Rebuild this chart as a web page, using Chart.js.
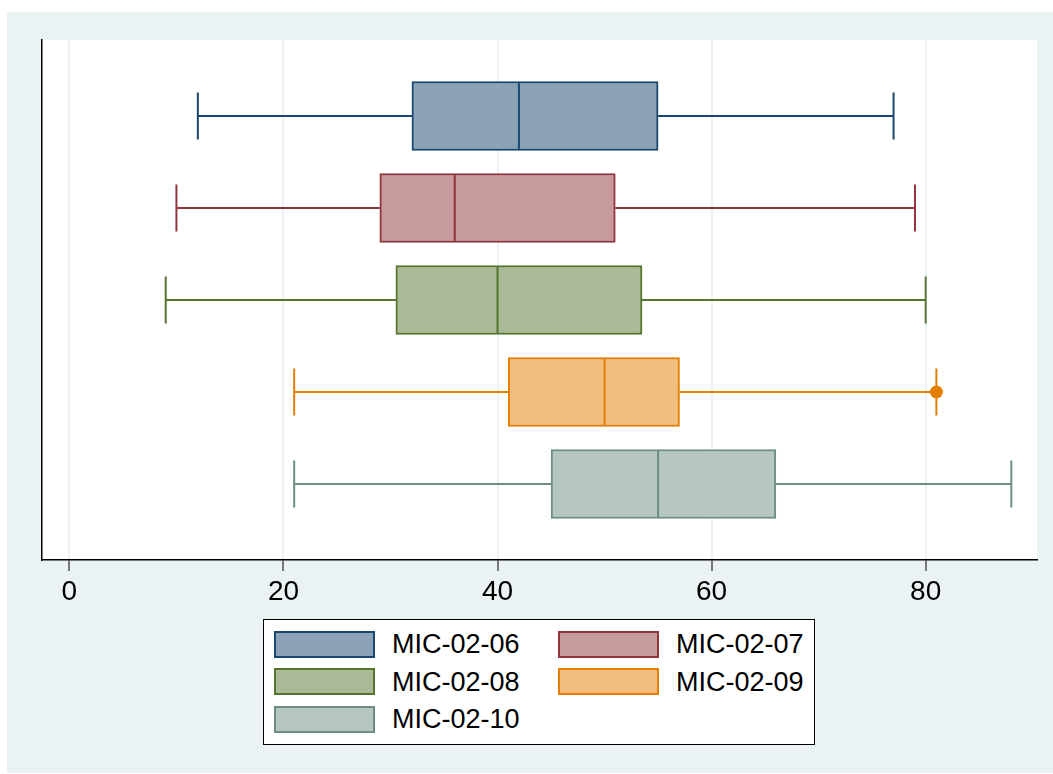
<!DOCTYPE html>
<html lang="en">
<head>
<meta charset="UTF-8">
<title>MIC box plots</title>
<script src="https://cdn.jsdelivr.net/npm/chart.js@4.4.2/dist/chart.umd.min.js"></script>
<style>
  body { margin: 0; background: #fff; font-family: 'Liberation Sans', Arial, sans-serif; }
  #frame { position: absolute; left: 7px; top: 12px; width: 1046px; height: 761px; background: #eaf2f3; }
  #chartBox { position: absolute; left: 0; top: 0; width: 1046px; height: 761px; }
  #legend {
    position: absolute; left: 256px; top: 607px; width: 552px; height: 126px;
    background: #fff; border: 1px solid #000; box-sizing: border-box;
  }
  .item { position: absolute; height: 28px; display: flex; align-items: center; }
  .swatch { width: 97px; height: 23px; border: 2.5px solid; margin-right: 17px; }
  .item span { font-size: 27px; color: #000; line-height: 28px; }
</style>
</head>
<body>
<div id="frame">
  <div id="chartBox"><canvas id="boxChart"></canvas></div>
  <div id="legend"></div>
</div>
<script>
// --- data ---
const categories = ['MIC-02-06', 'MIC-02-07', 'MIC-02-08', 'MIC-02-09', 'MIC-02-10'];
const whiskerLow = [12, 10, 9, 21, 21];
const quartile1 = [32, 29, 30.5, 41, 45];
const medians = [42, 36, 40, 50, 55];
const quartile3 = [55, 51, 53.5, 57, 66];
const whiskerHigh = [77, 79, 80, 81, 88];
const outliers = [[], [], [], [81], []];
const tickLabels = [0, 20, 40, 60, 80];

const lineColors = ['#1a476f', '#90353b', '#55752f', '#e37e00', '#6e8e84'];
const fillColors = ['#8ca3b7', '#c79a9d', '#aaba97', '#f1be7f', '#b6c6c1'];

// box bodies as floating bars
const datasets = categories.map((name, i) => ({
  type: 'bar',
  label: name,
  indexAxis: 'y',
  data: [{ y: i + 1, x: [quartile1[i], quartile3[i]] }],
  backgroundColor: fillColors[i],
  borderColor: lineColors[i],
  borderWidth: 2,
  borderSkipped: false,
  barThickness: 69,
  grouped: false
}));

// outside values
outliers.forEach((vals, i) => {
  if (!vals.length) return;
  datasets.push({
    type: 'scatter',
    label: categories[i] + ' outliers',
    data: vals.map(v => ({ x: v, y: i + 1 })),
    pointRadius: 6.5,
    pointBackgroundColor: lineColors[i],
    pointBorderColor: lineColors[i],
    pointBorderWidth: 0
  });
});

// white plot region
const plotBackground = {
  id: 'plotBackground',
  beforeDraw(chart) {
    const { ctx, chartArea: a } = chart;
    ctx.save();
    ctx.fillStyle = '#fff';
    ctx.fillRect(a.left, a.top, a.right - a.left, a.bottom - a.top);
    ctx.restore();
  }
};

// whiskers, caps and median lines
const whiskerPlugin = {
  id: 'whiskers',
  afterDatasetsDraw(chart) {
    const { ctx, scales: { x, y } } = chart;
    ctx.save();
    categories.forEach((name, i) => {
      const cy = y.getPixelForValue(i + 1);
      const px = v => x.getPixelForValue(v);
      ctx.strokeStyle = lineColors[i];
      ctx.lineWidth = 2;
      ctx.beginPath();
      ctx.moveTo(px(whiskerLow[i]), cy);
      ctx.lineTo(px(quartile1[i]), cy);
      ctx.moveTo(px(quartile3[i]), cy);
      ctx.lineTo(px(whiskerHigh[i]), cy);
      // caps
      ctx.moveTo(px(whiskerLow[i]), cy - 23.5);
      ctx.lineTo(px(whiskerLow[i]), cy + 23.5);
      ctx.moveTo(px(whiskerHigh[i]), cy - 23.5);
      ctx.lineTo(px(whiskerHigh[i]), cy + 23.5);
      // median
      ctx.moveTo(px(medians[i]), cy - 34);
      ctx.lineTo(px(medians[i]), cy + 34);
      ctx.stroke();
    });
    ctx.restore();
  }
};

new Chart(document.getElementById('boxChart'), {
  data: { datasets },
  options: {
    responsive: true,
    maintainAspectRatio: false,
    animation: false,
    layout: { padding: { left: 35, top: 28, right: 16, bottom: 0 } },
    plugins: { legend: { display: false }, tooltip: { enabled: false } },
    scales: {
      x: {
        type: 'linear',
        min: -2.56,
        max: 90.4,
        afterBuildTicks: scale => { scale.ticks = tickLabels.map(v => ({ value: v })); },
        afterFit: scale => { scale.height = 213; },
        grid: { color: '#eaf2f3', lineWidth: 2, drawTicks: true, tickLength: 11, tickColor: '#000', tickWidth: 1 },
        border: { display: true, color: '#000', width: 1.5 },
        ticks: { color: '#000', padding: 4, font: { family: 'Liberation Sans', size: 28 } }
      },
      y: {
        type: 'linear',
        min: 0.174,
        max: 5.826,
        reverse: true,
        offset: false,
        afterFit: scale => { scale.width = 0; },
        grid: { display: false, offset: false },
        border: { display: true, color: '#000', width: 1.5 },
        ticks: { display: false }
      }
    }
  },
  plugins: [plotBackground, whiskerPlugin]
});

// legend in two columns, as in the picture
const legend = document.getElementById('legend');
categories.forEach((name, i) => {
  const item = document.createElement('div');
  item.className = 'item';
  item.style.left = (i % 2 === 0 ? 10 : 294) + 'px';
  item.style.top = (10 + Math.floor(i / 2) * 37.5) + 'px';
  const sw = document.createElement('div');
  sw.className = 'swatch';
  sw.style.background = fillColors[i];
  sw.style.borderColor = lineColors[i];
  const label = document.createElement('span');
  label.textContent = name;
  item.appendChild(sw);
  item.appendChild(label);
  legend.appendChild(item);
});
</script>
</body>
</html>
